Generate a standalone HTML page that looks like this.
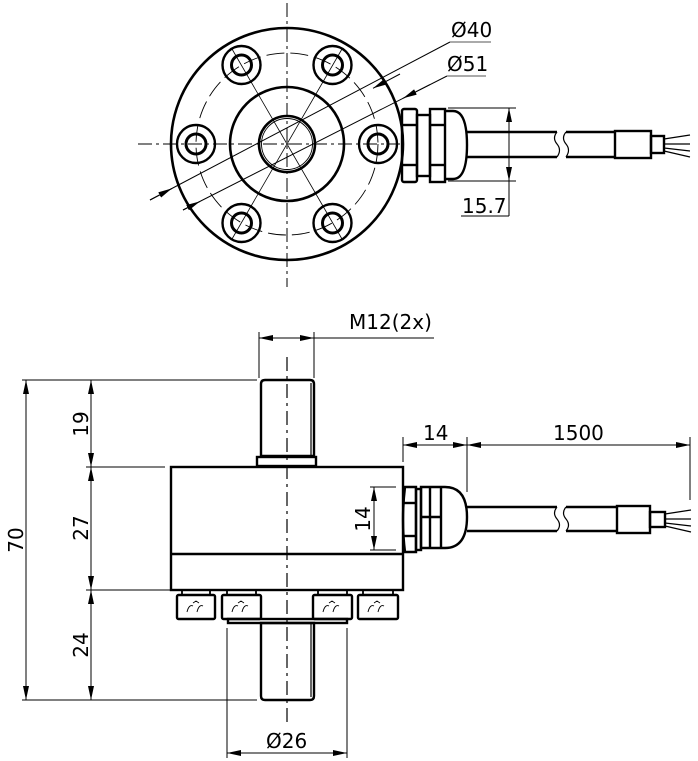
<!DOCTYPE html>
<html><head><meta charset="utf-8"><style>
html,body{margin:0;padding:0;background:#fff}
svg{display:block}
text{font-family:"DejaVu Sans","Liberation Sans",sans-serif;font-size:20px;fill:#000}
</style></head><body>
<svg width="698" height="761" viewBox="0 0 698 761" xmlns="http://www.w3.org/2000/svg">
<defs>
<marker id="a" viewBox="0 0 14 6" refX="14" refY="3" markerWidth="14" markerHeight="6" orient="auto-start-reverse" markerUnits="userSpaceOnUse"><path d="M0,0 L14,3 L0,6 Z" fill="#000"/></marker>
</defs>
<g fill="none" stroke="#000">
<!-- ===== TOP VIEW ===== -->
<g stroke-width="1" stroke-dasharray="14,4,3,4">
<line x1="138" y1="144" x2="400" y2="144"/>
<line x1="287" y1="3" x2="287" y2="287"/>
</g>
<circle cx="287" cy="144" r="91" stroke-width="0.9" stroke-dasharray="18,6"/>
<g stroke-width="0.8">
<line x1="232" y1="49" x2="342" y2="239"/>
<line x1="342" y1="49" x2="232" y2="239"/>
</g>
<circle cx="287" cy="144" r="116" stroke-width="2.6"/>
<circle cx="287" cy="144" r="57" stroke-width="2.6"/>
<circle cx="287" cy="144" r="28" stroke-width="2.6"/>
<circle cx="287" cy="144" r="25.5" stroke-width="0.9"/>
<g stroke-width="2.4">
<circle cx="196" cy="144" r="19"/><circle cx="378" cy="144" r="19"/>
<circle cx="241.5" cy="65" r="19"/><circle cx="332.5" cy="65" r="19"/>
<circle cx="241.5" cy="223" r="19"/><circle cx="332.5" cy="223" r="19"/>
</g>
<g stroke-width="3">
<circle cx="196" cy="144" r="10"/><circle cx="378" cy="144" r="10"/>
<circle cx="241.5" cy="65" r="10"/><circle cx="332.5" cy="65" r="10"/>
<circle cx="241.5" cy="223" r="10"/><circle cx="332.5" cy="223" r="10"/>
</g>
<!-- leaders -->
<line x1="150" y1="200" x2="450" y2="42" stroke-width="1"/>
<line x1="450" y1="42" x2="491" y2="42" stroke-width="1.2" stroke="#777"/>
<line x1="183" y1="210" x2="447" y2="76" stroke-width="1"/>
<line x1="447" y1="76" x2="486" y2="76" stroke-width="1.2" stroke="#777"/>
<g stroke-width="1">
<line x1="400" y1="74" x2="373" y2="88.3" marker-end="url(#a)"/>
<line x1="150" y1="200" x2="172" y2="188.4" marker-end="url(#a)"/>
<line x1="430" y1="84.6" x2="403" y2="98.3" marker-end="url(#a)"/>
<line x1="183" y1="210" x2="200" y2="201.4" marker-end="url(#a)"/>
</g>
<!-- gland top -->
<g stroke-width="2.4">
<rect x="402" y="109" width="15" height="73" rx="2"/>
<line x1="402" y1="125" x2="417" y2="125"/><line x1="402" y1="165" x2="417" y2="165"/>
<rect x="417" y="115" width="13" height="61"/>
<rect x="430" y="109" width="15" height="73"/>
<line x1="430" y1="125" x2="445" y2="125"/><line x1="430" y1="165" x2="445" y2="165"/>
<path d="M445,111 h8 q14,0 14,34 q0,34 -14,34 h-8"/>
<path d="M467,132 H557 M467,157 H557"/>
<path d="M557,132 q-5,6 0,12 q5,6 0,13 M566,132 q-5,6 0,12 q5,6 0,13" stroke-width="1.2"/>
<path d="M566,132 H615 M566,157 H615"/>
<rect x="615" y="131" width="36" height="27"/>
<rect x="651" y="136" width="13" height="17"/>
</g>
<path d="M664,139 l26,-4 M664,144 l26,0 M664,148 l26,3 M664,151 l26,6" stroke-width="1.2"/>
<!-- 15.7 dim -->
<g stroke-width="1">
<line x1="448" y1="108" x2="516" y2="108"/>
<line x1="448" y1="181" x2="516" y2="181"/>
<line x1="509" y1="108" x2="509" y2="181" marker-start="url(#a)" marker-end="url(#a)"/>
<line x1="509" y1="181" x2="509" y2="216"/>
<line x1="461" y1="216" x2="509" y2="216"/>
</g>

<!-- ===== SIDE VIEW ===== -->
<line x1="287" y1="357" x2="287" y2="722" stroke-width="1.2" stroke-dasharray="14,5,3,5"/>
<g stroke-width="2.4">
<path d="M261,456 V384 q0,-4 4,-4 h45 q4,0 4,4 V456 Z"/>
<line x1="311" y1="383" x2="311" y2="456" stroke-width="1.2"/>
<rect x="257" y="457" width="59" height="9"/>
<rect x="171" y="467" width="232" height="123"/>
<line x1="171" y1="554" x2="403" y2="554"/>
<rect x="177" y="595" width="38" height="24" rx="1.5"/>
<rect x="222" y="595" width="39" height="24" rx="1.5"/>
<rect x="313" y="595" width="39" height="24" rx="1.5"/>
<rect x="358" y="595" width="40" height="24" rx="1.5"/>
<path d="M182,590 v5 M210,590 v5 M227,590 v5 M256,590 v5 M318,590 v5 M347,590 v5 M363,590 v5 M393,590 v5" stroke-width="1.8"/>
<rect x="228" y="619" width="119" height="4"/>
<path d="M261,623 V696 q0,4 4,4 h45 q4,0 4,-4 V623 Z"/>
<line x1="311" y1="623" x2="311" y2="697" stroke-width="1.2"/>
</g>
<g stroke-width="0.9">
<path d="M187,612 q2,-8 6,-6 M197,612 q2,-8 6,-6 M193,603 l3,-2 l3,2 M232,612 q2,-8 6,-6 M242,612 q2,-8 6,-6 M238,603 l3,-2 l3,2 M323,612 q2,-8 6,-6 M333,612 q2,-8 6,-6 M329,603 l3,-2 l3,2 M368,612 q2,-8 6,-6 M378,612 q2,-8 6,-6 M374,603 l3,-2 l3,2"/>
</g>
<!-- side gland -->
<g stroke-width="2.4">
<path d="M405,487 h11 v65 h-11 q-4,-32 0,-65 Z"/>
<line x1="404" y1="503" x2="416" y2="503"/><line x1="404" y1="536" x2="416" y2="536"/>
<rect x="416" y="489" width="5" height="61"/>
<path d="M421,487 h24 q22,0 22,30 q0,31 -22,31 h-24 Z"/>
<line x1="430" y1="487" x2="430" y2="548"/><line x1="441" y1="487" x2="441" y2="548"/>
<line x1="421" y1="517" x2="441" y2="517"/>
<path d="M467,507 H557 M467,531 H557"/>
<path d="M557,507 q-5,6 0,12 q5,6 0,12 M566,507 q-5,6 0,12 q5,6 0,12" stroke-width="1.2"/>
<path d="M566,507 H617 M566,531 H617"/>
<rect x="617" y="506" width="33" height="27"/>
<rect x="650" y="512" width="15" height="15"/>
</g>
<path d="M665,514 l26,-4 M665,519 l26,0 M665,523 l26,3 M665,526 l26,6" stroke-width="1.2"/>
<!-- dims side -->
<g stroke-width="1">
<line x1="259" y1="332" x2="259" y2="378"/>
<line x1="314" y1="332" x2="314" y2="378"/>
<line x1="259" y1="338" x2="314" y2="338" marker-start="url(#a)" marker-end="url(#a)"/>
<line x1="314" y1="338" x2="434" y2="338"/>
<line x1="22" y1="380" x2="257" y2="380"/>
<line x1="22" y1="700" x2="257" y2="700"/>
<line x1="86" y1="467" x2="165" y2="467"/>
<line x1="86" y1="590" x2="170" y2="590"/>
<line x1="26" y1="380" x2="26" y2="700" marker-start="url(#a)" marker-end="url(#a)"/>
<line x1="91" y1="380" x2="91" y2="467" marker-start="url(#a)" marker-end="url(#a)"/>
<line x1="91" y1="467" x2="91" y2="590" marker-start="url(#a)" marker-end="url(#a)"/>
<line x1="91" y1="590" x2="91" y2="700" marker-start="url(#a)" marker-end="url(#a)"/>
<line x1="370" y1="487" x2="396" y2="487"/>
<line x1="370" y1="550" x2="396" y2="550"/>
<line x1="374" y1="487" x2="374" y2="550" marker-start="url(#a)" marker-end="url(#a)"/>
<line x1="227" y1="628" x2="227" y2="758"/>
<line x1="347" y1="628" x2="347" y2="758"/>
<line x1="227" y1="753" x2="347" y2="753" marker-start="url(#a)" marker-end="url(#a)"/>
<line x1="403" y1="437" x2="403" y2="462"/>
<line x1="467" y1="437" x2="467" y2="492"/>
<line x1="690" y1="437" x2="690" y2="500"/>
<line x1="403" y1="445" x2="467" y2="445" marker-start="url(#a)" marker-end="url(#a)"/>
<line x1="467" y1="445" x2="690" y2="445" marker-start="url(#a)" marker-end="url(#a)"/>
</g>
</g>
<!-- text -->
<text x="451" y="37">Ø40</text>
<text x="447" y="71">Ø51</text>
<text x="462" y="213">15.7</text>
<text x="349" y="329">M12(2x)</text>
<text x="423" y="440">14</text>
<text x="553" y="440">1500</text>
<text x="266" y="748">Ø26</text>
<text transform="translate(23,540) rotate(-90)" text-anchor="middle">70</text>
<text transform="translate(88,424) rotate(-90)" text-anchor="middle">19</text>
<text transform="translate(88,528) rotate(-90)" text-anchor="middle">27</text>
<text transform="translate(88,645) rotate(-90)" text-anchor="middle">24</text>
<text transform="translate(370,519) rotate(-90)" text-anchor="middle">14</text>
</svg>
</body></html>
